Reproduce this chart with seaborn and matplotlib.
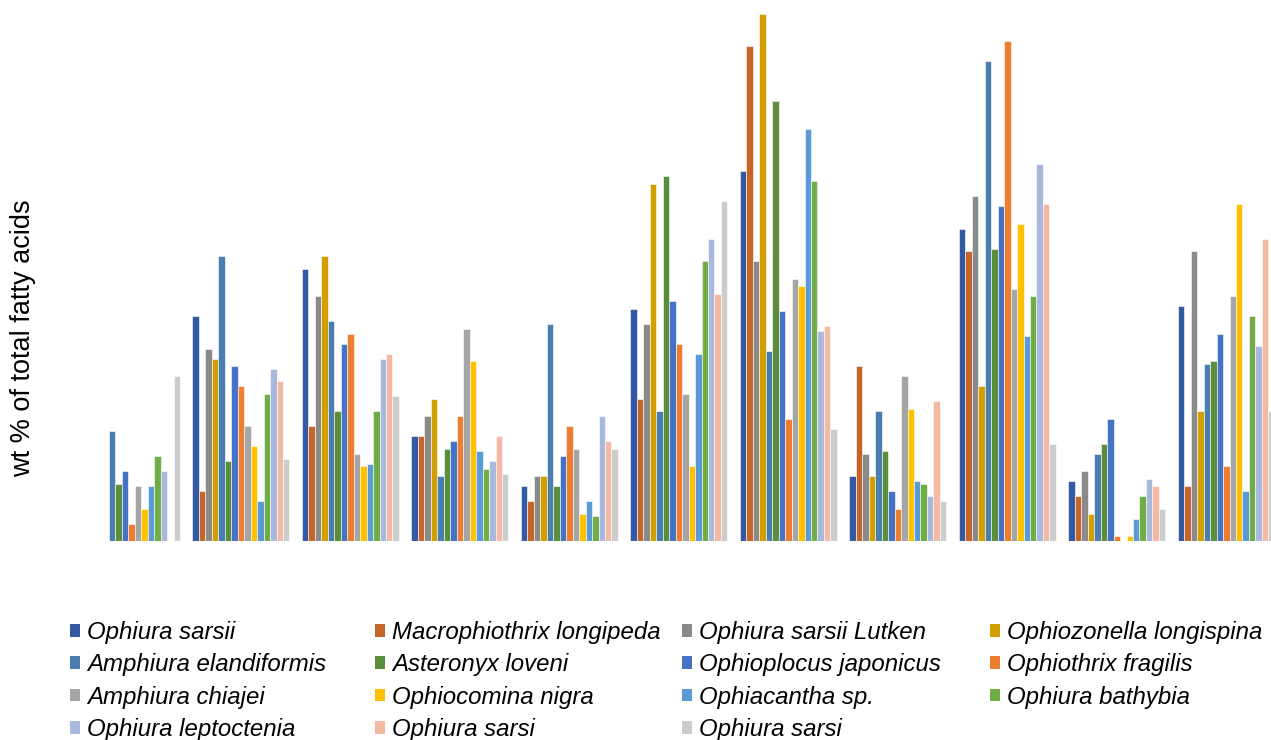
import numpy as np
import pandas as pd
import matplotlib
matplotlib.use('Agg')
import matplotlib.pyplot as plt
from matplotlib.patches import Patch
import seaborn as sns

# species (legend order, row-wise as in the original)
species = ['Ophiura sarsii', 'Macrophiothrix longipeda', 'Ophiura sarsii Lutken',
           'Ophiozonella longispina', 'Amphiura elandiformis', 'Asteronyx loveni',
           'Ophioplocus japonicus', 'Ophiothrix fragilis', 'Amphiura chiajei',
           'Ophiocomina nigra', 'Ophiacantha sp.', 'Ophiura bathybia',
           'Ophiura leptoctenia', 'Ophiura sarsi', 'Ophiura sarsi']
colors = ['#335AA1', '#C5652A', '#8A8A8A', '#D29E00', '#4A7EB0', '#5B8E3A',
          '#4472C4', '#ED7D31', '#A5A5A5', '#FFC000', '#5B9BD5', '#70AD47',
          '#A9B8DD', '#F4B9A3', '#CCCCCC']

groups = [str(i) for i in range(1, 12)]

# wt % values, one list per group, in species order
g1 = [0, 0, 0, 0, 4.4, 2.3, 2.8, 0.7, 2.2, 1.3, 2.2, 3.4, 2.8, 0, 6.6]
g2 = [9.0, 2.0, 7.7, 7.3, 11.4, 3.2, 7.0, 6.2, 4.6, 3.8, 1.6, 5.9, 6.9, 6.4, 3.3]
g3 = [10.9, 4.6, 9.8, 11.4, 8.8, 5.2, 7.9, 8.3, 3.5, 3.0, 3.1, 5.2, 7.3, 7.5, 5.8]
g4 = [4.2, 4.2, 5.0, 5.7, 2.6, 3.7, 4.0, 5.0, 8.5, 7.2, 3.6, 2.9, 3.2, 4.2, 2.7]
g5 = [2.2, 1.6, 2.6, 2.6, 8.7, 2.2, 3.4, 4.6, 3.7, 1.1, 1.6, 1.0, 5.0, 4.0, 3.7]
g6 = [9.3, 5.7, 8.7, 14.3, 5.2, 14.6, 9.6, 7.9, 5.9, 3.0, 7.5, 11.2, 12.1, 9.9, 13.6]
g7 = [14.8, 19.8, 11.2, 21.1, 7.6, 17.6, 9.2, 4.9, 10.5, 10.2, 16.5, 14.4, 8.4, 8.6, 4.5]
g8 = [2.6, 7.0, 3.5, 2.6, 5.2, 3.6, 2.0, 1.3, 6.6, 5.3, 2.4, 2.3, 1.8, 5.6, 1.6]
g9 = [12.5, 11.6, 13.8, 6.2, 19.2, 11.7, 13.4, 20.0, 10.1, 12.7, 8.2, 9.8, 15.1, 13.5, 3.9]
g10 = [2.4, 1.8, 2.8, 1.1, 3.5, 3.9, 4.9, 0.2, 0, 0.2, 0.9, 1.8, 2.5, 2.2, 1.3]
g11 = [9.4, 2.2, 11.6, 5.2, 7.1, 7.2, 8.3, 3.0, 9.8, 13.5, 2.0, 9.0, 7.8, 12.1, 5.2]
values = [g1, g2, g3, g4, g5, g6, g7, g8, g9, g10, g11]

# long table; hue keys made unique because two series share a name
keys = [f'{i:02d} {s}' for i, s in enumerate(species)]
rows = []
for g, vals in zip(groups, values):
    for k, v in zip(keys, vals):
        rows.append({'group': g, 'species': k, 'value': v})
df = pd.DataFrame(rows)

sns.set_style('white')
plt.rcParams['font.family'] = ['Liberation Sans', 'DejaVu Sans']
plt.rcParams['text.color'] = 'black'

fig = plt.figure(figsize=(12.71, 7.4), dpi=100)
ax = fig.add_axes([0.0604, 0.2689, 0.9475, 0.731])

sns.barplot(data=df, x='group', y='value', hue='species', hue_order=keys,
            order=groups, palette=colors, saturation=1, width=0.886,
            errorbar=None, edgecolor='white', linewidth=0.4, legend=False,
            ax=ax)

ax.set_xlim(-0.5, 10.5)
ax.set_ylim(0, 21.64)
ax.set_xticks([])
ax.set_yticks([])
ax.set_xlabel('')
ax.set_ylabel('')
for sp in ax.spines.values():
    sp.set_visible(False)

fig.text(0.018, 1 - 338 / 740, 'wt % of total fatty acids', rotation=90,
         ha='center', va='center', fontsize=19.5, color='black')

# legend: four equal-width columns filled row by row
col_x = [0.0551, 0.2950, 0.5366, 0.7789]
for c in range(4):
    idx = list(range(c, len(species), 4))
    handles = [Patch(facecolor=colors[i], edgecolor='none') for i in idx]
    labels = [species[i] for i in idx]
    leg = fig.legend(handles, labels, loc='upper left',
                     bbox_to_anchor=(col_x[c], 0.161), frameon=False,
                     borderpad=0, borderaxespad=0, handlelength=0.42,
                     handleheight=0.42, handletextpad=0.3, labelspacing=0.39,
                     prop={'size': 17.3, 'style': 'italic'}, labelcolor='black')

fig.savefig('out.png', dpi=100)
